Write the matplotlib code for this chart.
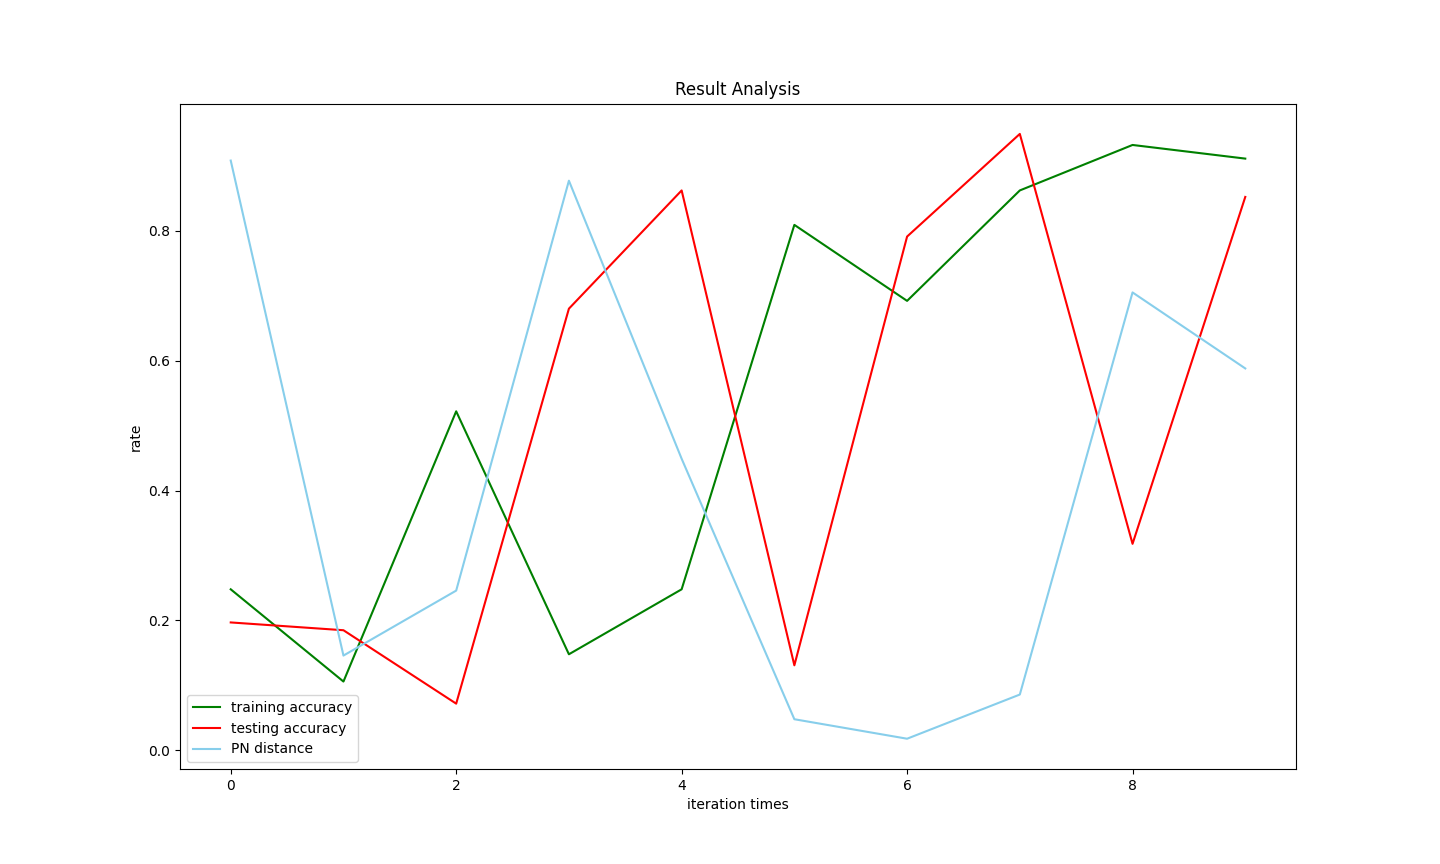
import matplotlib
matplotlib.use("Agg")
import matplotlib.pyplot as plt

iterations = list(range(10))
training_accuracy = [0.248, 0.106, 0.522, 0.148, 0.248, 0.809, 0.692, 0.862, 0.932, 0.911]
testing_accuracy = [0.197, 0.185, 0.072, 0.680, 0.862, 0.131, 0.791, 0.949, 0.318, 0.852]
pn_distance = [0.908, 0.146, 0.246, 0.877, 0.449, 0.048, 0.018, 0.086, 0.705, 0.588]

fig, ax = plt.subplots(figsize=(14.4, 8.64), dpi=100)
ax.plot(iterations, training_accuracy, color="green", label="training accuracy")
ax.plot(iterations, testing_accuracy, color="red", label="testing accuracy")
ax.plot(iterations, pn_distance, color="skyblue", label="PN distance")
ax.set_title("Result Analysis")
ax.set_xlabel("iteration times")
ax.set_ylabel("rate")
ax.legend(loc="lower left")
fig.savefig("out.png", dpi=100)
